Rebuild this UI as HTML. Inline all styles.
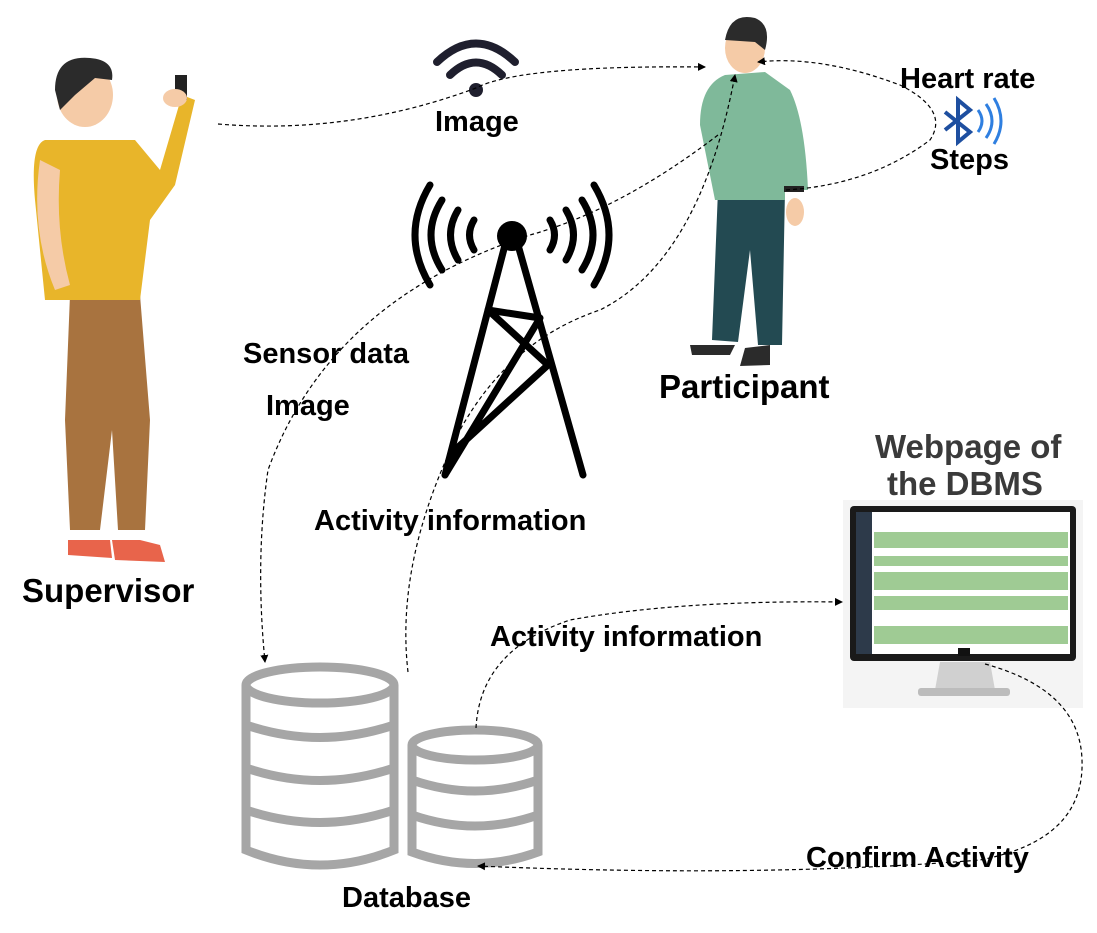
<!DOCTYPE html>
<html><head><meta charset="utf-8"><style>
html,body{margin:0;padding:0;background:#fff;}
svg{display:block;font-family:"Liberation Sans",Arial,sans-serif;font-weight:bold;}
</style></head><body>
<svg width="1097" height="933" viewBox="0 0 1097 933" xmlns="http://www.w3.org/2000/svg">
<defs>
<marker id="a" markerWidth="8" markerHeight="8" refX="7" refY="4" orient="auto" markerUnits="userSpaceOnUse"><path d="M0,0 L8,4 L0,8 z" fill="#000"/></marker>
</defs>
<rect width="1097" height="933" fill="#fff"/>

<!-- Supervisor -->
<g>
<path d="M140,295 L150,420 L145,530 L118,530 L112,430 L100,530 L70,530 L65,420 L70,295 Z" fill="#a8733f"/>
<path d="M68,540 L68,555 L112,558 L110,540 Z" fill="#e8644b"/>
<path d="M112,540 L115,560 L165,562 L160,545 L140,540 Z" fill="#e8644b"/>
<path d="M45,140 Q30,145 35,200 L45,300 L140,300 L150,220 L175,185 L195,100 L182,95 L160,170 L135,140 Z" fill="#e8b52a"/>
<rect x="175" y="75" width="12" height="25" fill="#222"/>
<ellipse cx="175" cy="98" rx="12" ry="9" fill="#f5cba7"/>
<ellipse cx="85" cy="95" rx="28" ry="32" fill="#f5cba7"/>
<path d="M55,90 Q55,55 90,58 Q115,60 112,80 L95,78 L75,95 L60,110 Z" fill="#2b2b2b"/>
<path d="M40,160 Q30,230 55,290 L70,285 Q55,230 60,170 Z" fill="#f5cba7"/>
</g>

<!-- Wifi -->
<g fill="none" stroke="#1f1f2e" stroke-width="8" stroke-linecap="round">
<path d="M437,62 Q476,25 515,62"/>
<path d="M450,75 Q476,50 502,75"/>
</g>
<circle cx="476" cy="90" r="7" fill="#1f1f2e"/>

<!-- Tower -->
<g stroke="#000" stroke-width="7" fill="none" stroke-linecap="round">
<path d="M445,475 L505,245 M583,475 L518,245"/>
<path d="M488,310 L548,365 L455,450 M540,318 L488,310 M540,318 L445,475"/>
<path d="M442,200 Q420,235 442,270 M458,210 Q443,235 458,260 M474,220 Q465,235 474,250"/>
<path d="M582,200 Q604,235 582,270 M566,210 Q581,235 566,260 M550,220 Q559,235 550,250"/>
<path d="M430,185 Q400,235 430,285 M594,185 Q624,235 594,285"/>
</g>
<circle cx="512" cy="236" r="15" fill="#000"/>

<!-- Participant -->
<g>
<path d="M718,190 L712,340 L738,342 L750,250 L758,345 L782,345 L785,190 Z" fill="#234a52"/>
<path d="M690,345 L735,345 L730,355 L692,355 Z M745,348 L770,345 L770,365 L740,366 Z" fill="#2b2b2b"/>
<path d="M725,75 Q700,85 700,125 L715,200 L785,200 L785,190 L808,190 Q805,120 790,90 L765,72 Z" fill="#7fb99a"/>
<ellipse cx="745" cy="48" rx="20" ry="25" fill="#f5cba7"/>
<path d="M725,40 Q730,12 755,18 Q772,25 765,50 L755,42 Z" fill="#2b2b2b"/>
<ellipse cx="795" cy="212" rx="9" ry="14" fill="#f5cba7"/>
<rect x="784" y="186" width="20" height="6" fill="#222"/>
</g>

<!-- Bluetooth -->
<g fill="none" stroke="#1e4fa0" stroke-width="4">
<path d="M945,112 L970,132 L958,142 L958,100 L970,110 L945,130"/>
</g>
<g fill="none" stroke="#2f7fe0" stroke-width="3">
<path d="M978,110 Q986,121 978,132 M986,104 Q998,121 986,138 M994,98 Q1008,121 994,144"/>
</g>

<!-- Database -->
<g fill="none" stroke="#a6a6a6" stroke-width="9">
<ellipse cx="320" cy="685" rx="74" ry="18"/>
<path d="M246,685 L246,850 Q320,880 394,850 L394,685"/>
<path d="M246,725 Q320,750 394,725 M246,768 Q320,793 394,768 M246,810 Q320,835 394,810"/>
<ellipse cx="475" cy="745" rx="63" ry="15"/>
<path d="M412,745 L412,852 Q475,875 538,852 L538,745"/>
<path d="M412,780 Q475,802 538,780 M412,815 Q475,837 538,815"/>
</g>

<!-- Monitor -->
<rect x="843" y="500" width="240" height="208" fill="#f4f4f4"/>
<rect x="850" y="506" width="226" height="155" rx="4" fill="#1a1a1a"/>
<rect x="856" y="512" width="214" height="142" fill="#fff"/>
<rect x="856" y="512" width="16" height="142" fill="#2d3a4a"/>
<g fill="#9fcb94">
<rect x="874" y="532" width="194" height="16"/>
<rect x="874" y="556" width="194" height="10"/>
<rect x="874" y="572" width="194" height="18"/>
<rect x="874" y="596" width="194" height="14"/>
<rect x="874" y="626" width="194" height="18"/>
</g>
<rect x="958" y="648" width="12" height="8" fill="#111"/>
<path d="M940,662 L990,662 L995,690 L935,690 Z" fill="#d0d0d0"/>
<rect x="918" y="688" width="92" height="8" rx="3" fill="#bcbcbc"/>

<!-- Connectors -->
<g fill="none" stroke="#000" stroke-width="1.2" stroke-dasharray="4,3">
<path d="M218,124 Q350,135 476,88 Q520,65 705,67" marker-end="url(#a)"/>
<path d="M786,190 Q870,185 930,140 Q950,110 900,85 Q820,55 758,62" marker-end="url(#a)"/>
<path d="M718,135 Q620,210 530,235 Q330,300 268,470 Q255,560 265,662" marker-end="url(#a)"/>
<path d="M408,672 Q395,560 460,430 Q510,340 600,310 Q700,260 735,75" marker-end="url(#a)"/>
<path d="M476,728 Q480,650 570,620 Q680,600 842,602" marker-end="url(#a)"/>
<path d="M985,664 Q1080,690 1082,760 Q1085,840 980,860 Q760,878 478,866" marker-end="url(#a)"/>
</g>

<!-- Labels -->
<g fill="#000" font-size="29">
<text x="435" y="131">Image</text>
<text x="900" y="88">Heart rate</text>
<text x="930" y="169">Steps</text>
<text x="243" y="363">Sensor data</text>
<text x="266" y="415">Image</text>
<text x="659" y="398" font-size="33">Participant</text>
<text x="22" y="602" font-size="33">Supervisor</text>
<text x="314" y="530">Activity information</text>
<text x="490" y="646">Activity information</text>
<text x="806" y="867">Confirm Activity</text>
<text x="342" y="907">Database</text>
<text x="875" y="458" font-size="33" fill="#3a3a3a">Webpage of</text>
<text x="887" y="495" font-size="33" fill="#3a3a3a">the DBMS</text>
</g>
</svg>
</body></html>
